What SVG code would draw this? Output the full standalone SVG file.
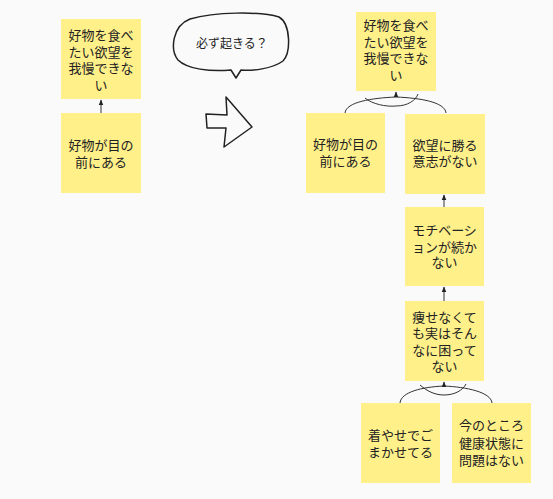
<svg xmlns="http://www.w3.org/2000/svg" width="553" height="499" viewBox="0 0 553 499">
<defs>
<style>
.note{fill:#fff08a;}
.t{font-family:"Noto Sans CJK JP","Noto Sans",sans-serif;font-size:13px;fill:#222;text-anchor:middle;}
.c{fill:none;stroke:#333;stroke-width:1;}
.h{fill:none;stroke:#222;stroke-width:1.5;stroke-linejoin:round;stroke-linecap:round;}
</style>
<marker id="ah" viewBox="0 0 10 10" refX="9" refY="5" markerWidth="6" markerHeight="6" orient="auto">
<path d="M0,1 L10,5 L0,9 Z" fill="#222"/>
</marker>
</defs>
<rect width="553" height="499" fill="#fafafa"/>

<g id="connectors">
<line class="c" x1="101" y1="113" x2="101" y2="100" marker-end="url(#ah)"/>
<line class="c" x1="444" y1="207" x2="444" y2="195" marker-end="url(#ah)"/>
<line class="c" x1="444" y1="301" x2="444" y2="287" marker-end="url(#ah)"/>
<path class="c" d="M345,113 C346,102 372,98 396,97 C420,98 445,102 446,113"/>
<path class="c" d="M365,98 C372,104 386,107 396,106 C408,106 416,100 418,94"/>
<line class="c" x1="396" y1="97" x2="396" y2="92" marker-end="url(#ah)"/>
<path class="c" d="M400,403 C401,392 422,387 444,386 C466,387 491,392 492,403"/>
<path class="c" d="M420,385 C428,392 436,395 444,395 C455,395 463,390 466,384"/>
<line class="c" x1="444" y1="386" x2="444" y2="382" marker-end="url(#ah)"/>
</g>

<g id="n1">
<rect class="note" x="61" y="19" width="80" height="80"/>
<text class="t" x="101" y="40">好物を食べ</text>
<text class="t" x="101" y="56.5">たい欲望を</text>
<text class="t" x="101" y="73">我慢できな</text>
<text class="t" x="101" y="89.5">い</text>
</g>
<g id="n2">
<rect class="note" x="61" y="113" width="80" height="80"/>
<text class="t" x="101" y="150">好物が目の</text>
<text class="t" x="101" y="166.5">前にある</text>
</g>

<g id="bubble">
<path class="h" d="M190,19 C215,12 258,11 279,17 C291,24 291,53 283,61 C272,69 252,71 241,70 L236,78 L231,70 C210,72 187,69 178,60 C170,50 172,26 190,19 Z" fill="#fafafa"/>
<text x="232" y="48" style="font-family:'Noto Sans CJK JP','Noto Sans',sans-serif;font-size:12px;fill:#222;text-anchor:middle;">必ず起きる？</text>
</g>
<g id="bigarrow">
<path class="h" d="M206,114 L227,115 L226,97 L252,127 L224,147 L226,128 L207,128 Z" fill="#fafafa"/>
</g>

<g id="n3">
<rect class="note" x="356" y="12" width="80" height="79"/>
<text class="t" x="396" y="30">好物を食べ</text>
<text class="t" x="396" y="46.5">たい欲望を</text>
<text class="t" x="396" y="63">我慢できな</text>
<text class="t" x="396" y="79.5">い</text>
</g>
<g id="n4">
<rect class="note" x="306" y="113" width="79" height="80"/>
<text class="t" x="345.5" y="149">好物が目の</text>
<text class="t" x="345.5" y="166">前にある</text>
</g>
<g id="n5">
<rect class="note" x="405" y="114" width="80" height="80"/>
<text class="t" x="445" y="149.5">欲望に勝る</text>
<text class="t" x="445" y="166">意志がない</text>
</g>
<g id="n6">
<rect class="note" x="405" y="207" width="79" height="79"/>
<text class="t" x="444.5" y="235">モチベーシ</text>
<text class="t" x="444.5" y="251.5">ョンが続か</text>
<text class="t" x="444.5" y="267">ない</text>
</g>
<g id="n7">
<rect class="note" x="405" y="301" width="79" height="80"/>
<text class="t" x="444.5" y="321.5">痩せなくて</text>
<text class="t" x="444.5" y="338">も実はそん</text>
<text class="t" x="444.5" y="354.5">なに困って</text>
<text class="t" x="444.5" y="370.5">ない</text>
</g>
<g id="n8">
<rect class="note" x="361" y="403" width="79" height="80"/>
<text class="t" x="400.5" y="440">着やせでご</text>
<text class="t" x="400.5" y="456.5">まかせてる</text>
</g>
<g id="n9">
<rect class="note" x="452" y="403" width="79" height="80"/>
<text class="t" x="491.5" y="430">今のところ</text>
<text class="t" x="491.5" y="448">健康状態に</text>
<text class="t" x="491.5" y="465">問題はない</text>
</g>
</svg>
